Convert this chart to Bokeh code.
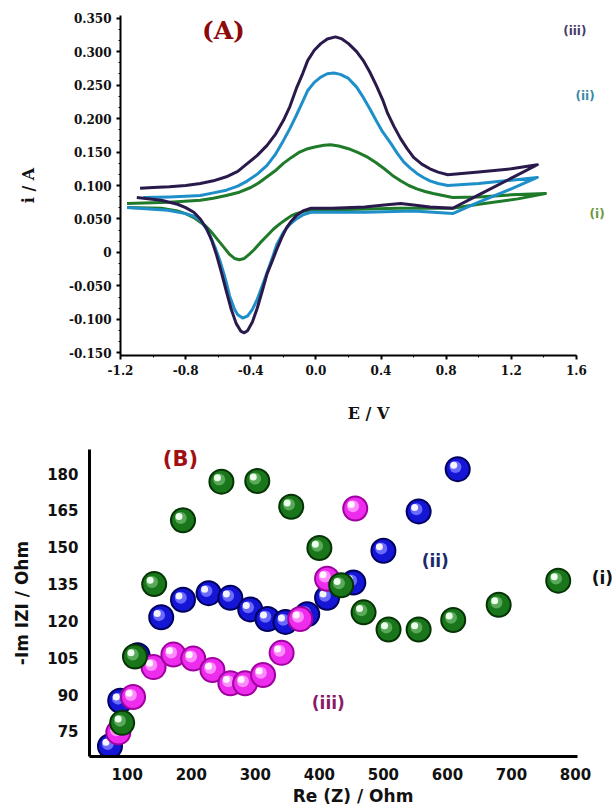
import numpy as np
from bokeh.plotting import figure
from bokeh.layouts import column
from bokeh.models import Label, SingleIntervalTicker, CustomJSTickFormatter, Range1d, ColumnDataSource
from bokeh.embed import file_html
from bokeh.resources import INLINE

# ---------------- Panel A : cyclic voltammograms (E / V, i / A) ----------------
e_i = [-1.16, -0.9, -0.71, -0.63, -0.55, -0.47, -0.4, -0.35, -0.3, -0.25, -0.2, -0.15, -0.1, -0.05, 0.0, 0.05, 0.09, 0.14, 0.2, 0.26,
       0.32, 0.37, 0.42, 0.47, 0.52, 0.57, 0.62, 0.67, 0.72, 0.78, 0.84, 1.0, 1.2, 1.41,
       1.24, 1.0, 0.84, 0.5, 0.2, -0.03, -0.08, -0.12, -0.15, -0.18, -0.22, -0.26, -0.3, -0.34, -0.38, -0.41, -0.44, -0.47,
       -0.5, -0.53, -0.56, -0.6, -0.64, -0.68, -0.72, -0.75, -0.8, -0.85, -0.95, -1.16]
i_i = [0.073, 0.075, 0.078, 0.081, 0.085, 0.090, 0.097, 0.104, 0.113, 0.122, 0.133, 0.142, 0.150, 0.155, 0.158, 0.160, 0.161, 0.159, 0.155, 0.149,
       0.142, 0.134, 0.125, 0.115, 0.107, 0.100, 0.095, 0.091, 0.088, 0.085, 0.082, 0.083, 0.086, 0.088,
       0.080, 0.072, 0.066, 0.066, 0.064, 0.063, 0.061, 0.058, 0.055, 0.050, 0.043, 0.035, 0.025, 0.015, 0.004, -0.003, -0.009, -0.011,
       -0.009, -0.003, 0.006, 0.018, 0.030, 0.040, 0.047, 0.052, 0.058, 0.062, 0.066, 0.067]

e_ii = [-1.06, -0.9, -0.8, -0.71, -0.63, -0.55, -0.48, -0.42, -0.36, -0.3, -0.25, -0.2, -0.16, -0.12, -0.08, -0.05, -0.01, 0.03, 0.07, 0.11,
        0.15, 0.2, 0.25, 0.29, 0.33, 0.37, 0.41, 0.46, 0.5, 0.54, 0.58, 0.62, 0.66, 0.7, 0.75, 0.81, 1.0, 1.2, 1.36,
        1.2, 1.0, 0.84, 0.6, 0.3, 0.1, -0.03, -0.08, -0.12, -0.16, -0.2, -0.24, -0.27, -0.3, -0.33, -0.36, -0.39, -0.42, -0.45,
        -0.48, -0.5, -0.53, -0.55, -0.57, -0.59, -0.62, -0.65, -0.68, -0.71, -0.75, -0.8, -0.91, -1.16]
i_ii = [0.082, 0.083, 0.084, 0.085, 0.089, 0.093, 0.099, 0.107, 0.117, 0.130, 0.146, 0.167, 0.185, 0.205, 0.226, 0.242, 0.254, 0.262, 0.267, 0.268,
        0.266, 0.260, 0.247, 0.232, 0.215, 0.197, 0.180, 0.163, 0.148, 0.135, 0.126, 0.118, 0.112, 0.107, 0.103, 0.100, 0.103, 0.108, 0.112,
        0.095, 0.075, 0.058, 0.062, 0.060, 0.060, 0.060, 0.056, 0.050, 0.042, 0.030, 0.012, -0.010, -0.030, -0.050, -0.070, -0.085, -0.095, -0.098,
        -0.093, -0.085, -0.065, -0.045, -0.028, -0.012, 0.008, 0.025, 0.038, 0.048, 0.054, 0.058, 0.063, 0.067]

e_iii = [-1.08, -1.0, -0.9, -0.8, -0.71, -0.63, -0.55, -0.48, -0.42, -0.36, -0.3, -0.25, -0.2, -0.16, -0.12, -0.08, -0.05, -0.01, 0.03, 0.07,
         0.12, 0.16, 0.2, 0.25, 0.29, 0.33, 0.37, 0.41, 0.44, 0.48, 0.52, 0.56, 0.6, 0.65, 0.7, 0.75, 0.81, 1.0, 1.2, 1.36,
         1.2, 1.0, 0.84, 0.7, 0.6, 0.52, 0.42, 0.3, 0.1, -0.03, -0.08, -0.12, -0.15, -0.18, -0.21, -0.24, -0.27, -0.3, -0.33, -0.36,
         -0.39, -0.42, -0.44, -0.46, -0.49, -0.52, -0.55, -0.58, -0.61, -0.64, -0.67, -0.71, -0.75, -0.8, -0.85, -0.95, -1.1]
i_iii = [0.096, 0.097, 0.098, 0.100, 0.103, 0.107, 0.113, 0.121, 0.133, 0.145, 0.160, 0.176, 0.197, 0.218, 0.245, 0.268, 0.287, 0.302, 0.312, 0.319,
         0.322, 0.319, 0.312, 0.300, 0.287, 0.270, 0.250, 0.228, 0.208, 0.188, 0.170, 0.155, 0.142, 0.132, 0.125, 0.120, 0.116, 0.120, 0.125, 0.131,
         0.111, 0.086, 0.066, 0.068, 0.071, 0.073, 0.071, 0.068, 0.066, 0.066, 0.062, 0.055, 0.047, 0.037, 0.022, 0.005, -0.014, -0.032, -0.058, -0.083,
         -0.104, -0.117, -0.120, -0.118, -0.106, -0.085, -0.058, -0.030, -0.004, 0.018, 0.035, 0.050, 0.060, 0.067, 0.072, 0.078, 0.082]

# ---------------- Panel B : Nyquist plots (Re Z, -Im Z / Ohm) ----------------
re_i = [92, 112, 142, 187, 247, 303, 356, 400, 434, 469, 508, 555, 609, 680, 773]
im_i = [78.5, 105.5, 135, 161, 176.7, 177, 166.5, 149.7, 134.5, 123.5, 116.5, 116.5, 120.4, 126.6, 136.4]
re_ii = [73, 89, 116, 153, 187, 227, 261, 292, 319, 347, 381, 412, 453, 500, 555, 616]
im_ii = [69, 87.5, 106, 121.5, 128.6, 131.3, 129.4, 124.7, 120.8, 119.6, 122.7, 129.4, 135.6, 148.6, 164.6, 181.8]
re_iii = [86, 109, 141, 172, 203, 233, 261, 284, 312, 341, 370, 412, 456]
im_iii = [74.6, 89, 101.2, 106.3, 104.7, 100, 94.6, 94.6, 98, 107, 120.8, 137.2, 165.8]

# ---------------- Figure A ----------------
xA = (-1.2001, 1.846)
pA = figure(width=616, height=425, x_range=Range1d(*xA), y_range=Range1d(-0.154, 0.354),
            output_backend="svg", toolbar_location=None,
            min_border_left=120, min_border_right=0, min_border_top=15, min_border_bottom=70)
pA.frame_align = False
pA.grid.visible = False
pA.outline_line_color = None

pA.line(e_i, i_i, line_width=3, color="#1f7a2a", line_join="round")
pA.line(e_ii, i_ii, line_width=3, color="#1e8fc8", line_join="round")
pA.line(e_iii, i_iii, line_width=3, color="#2a1a4c", line_join="round")

pA.xaxis.ticker = SingleIntervalTicker(interval=0.4, num_minor_ticks=2)
pA.yaxis.ticker = SingleIntervalTicker(interval=0.05, num_minor_ticks=3)
pA.xaxis.bounds = (-1.2001, 1.6001)
pA.xaxis.formatter = CustomJSTickFormatter(code="return tick.toFixed(1);")
pA.yaxis.formatter = CustomJSTickFormatter(code="return Math.abs(tick) < 1e-9 ? '0' : tick.toFixed(3);")
for ax in (pA.xaxis, pA.yaxis):
    ax.axis_line_width = 2
    ax.axis_line_color = "black"
    ax.major_tick_line_width = 2
    ax.major_tick_out = 4
    ax.major_tick_in = 0
    ax.minor_tick_out = 2
    ax.minor_tick_in = 0
    ax.major_label_text_font = "DejaVu Serif"
    ax.major_label_text_font_style = "bold"
    ax.major_label_text_font_size = "12px"
    ax.major_label_text_color = "#111111"
    ax.axis_label_text_font = "DejaVu Serif"
    ax.axis_label_text_font_style = "bold"
    ax.axis_label_text_font_size = "16px"
    ax.axis_label_text_color = "#111111"
pA.xaxis.axis_label = "E / V"
pA.xaxis.axis_label_standoff = 26
pA.yaxis.axis_label = "i / A"
pA.yaxis.axis_label_standoff = 28

pA.add_layout(Label(x=-0.568, y=0.332, text="(A)", text_font="DejaVu Serif", text_font_style="bold",
                    text_font_size="25px", text_color="#8b0a0a", text_align="center", text_baseline="middle"))
for lx, ly, t, c in [(1.59, 0.331, "(iii)", "#4a3a6a"), (1.653, 0.233, "(ii)", "#3a8aa8"), (1.727, 0.058, "(i)", "#6a9a3a")]:
    pA.add_layout(Label(x=lx, y=ly, text=t, text_font="DejaVu Sans", text_font_style="bold",
                        text_font_size="12px", text_color=c, text_align="center", text_baseline="middle"))

# ---------------- Figure B ----------------
xr = (41, 864)
yr = (64.8, 189.8)
pB = figure(width=616, height=383, x_range=Range1d(*xr), y_range=Range1d(*yr),
            output_backend="svg", toolbar_location=None,
            min_border_left=89, min_border_right=0, min_border_top=24, min_border_bottom=40)
pB.frame_align = False
pB.grid.visible = False
pB.outline_line_color = None

frame_w = 616 - 89
frame_h = 383 - 24 - 40
dxp = -4.0 * (xr[1] - xr[0]) / frame_w
dyp = 4.0 * (yr[1] - yr[0]) / frame_h

styles = {
    "ii": ("#00005e", "#1515d6", "#6a6aff", "#f4f4ff"),
    "iii": ("#a000a0", "#ee2cee", "#ff8cff", "#fff4ff"),
    "i": ("#053305", "#1a761a", "#5aa85a", "#ecffec"),
}
xs, ys, sz, col = [], [], [], []
for key, rx, ry in [("ii", re_ii, im_ii), ("iii", re_iii, im_iii), ("i", re_i, im_i)]:
    dark, body, mid, light = styles[key]
    for a, b in zip(rx, ry):
        xs += [a, a, a + dxp * 0.55, a + dxp]
        ys += [b, b, b + dyp * 0.55, b + dyp]
        sz += [26, 22, 12, 7]
        col += [dark, body, mid, light]
src = ColumnDataSource(dict(x=xs, y=ys, size=sz, color=col))
pB.scatter("x", "y", size="size", fill_color="color", line_color=None, source=src)

pB.xaxis.ticker = SingleIntervalTicker(interval=100, num_minor_ticks=0)
pB.yaxis.ticker = SingleIntervalTicker(interval=15, num_minor_ticks=0)
pB.xaxis.bounds = (41, 803)
for ax in (pB.xaxis, pB.yaxis):
    ax.axis_line_width = 3
    ax.axis_line_color = "black"
    ax.major_tick_line_color = None
    ax.minor_tick_line_color = None
    ax.major_label_standoff = 5
    ax.major_label_text_font = "DejaVu Sans"
    ax.major_label_text_font_style = "bold"
    ax.major_label_text_font_size = "15px"
    ax.major_label_text_color = "#111111"
    ax.axis_label_text_font = "DejaVu Sans"
    ax.axis_label_text_font_style = "bold"
    ax.axis_label_text_font_size = "17px"
    ax.axis_label_text_color = "#111111"
pB.xaxis.axis_label = "Re (Z) / Ohm"
pB.xaxis.axis_label_standoff = 3
pB.yaxis.axis_label = "-Im IZI / Ohm"
pB.yaxis.axis_label_standoff = 12

pB.add_layout(Label(x=183, y=186.1, text="(B)", text_font="DejaVu Sans", text_font_style="bold",
                    text_font_size="21px", text_color="#a01010", text_align="center", text_baseline="middle"))
for lx, ly, t, c in [(581, 144.2, "(ii)", "#1a2a6a"), (842, 137.6, "(i)", "#111111"), (414, 86.7, "(iii)", "#8a1a6a")]:
    pB.add_layout(Label(x=lx, y=ly, text=t, text_font="DejaVu Sans", text_font_style="bold",
                        text_font_size="17px", text_color=c, text_align="center", text_baseline="middle"))

layout = column(pA, pB, spacing=0)
open("out.html", "w").write(file_html(layout, INLINE))
